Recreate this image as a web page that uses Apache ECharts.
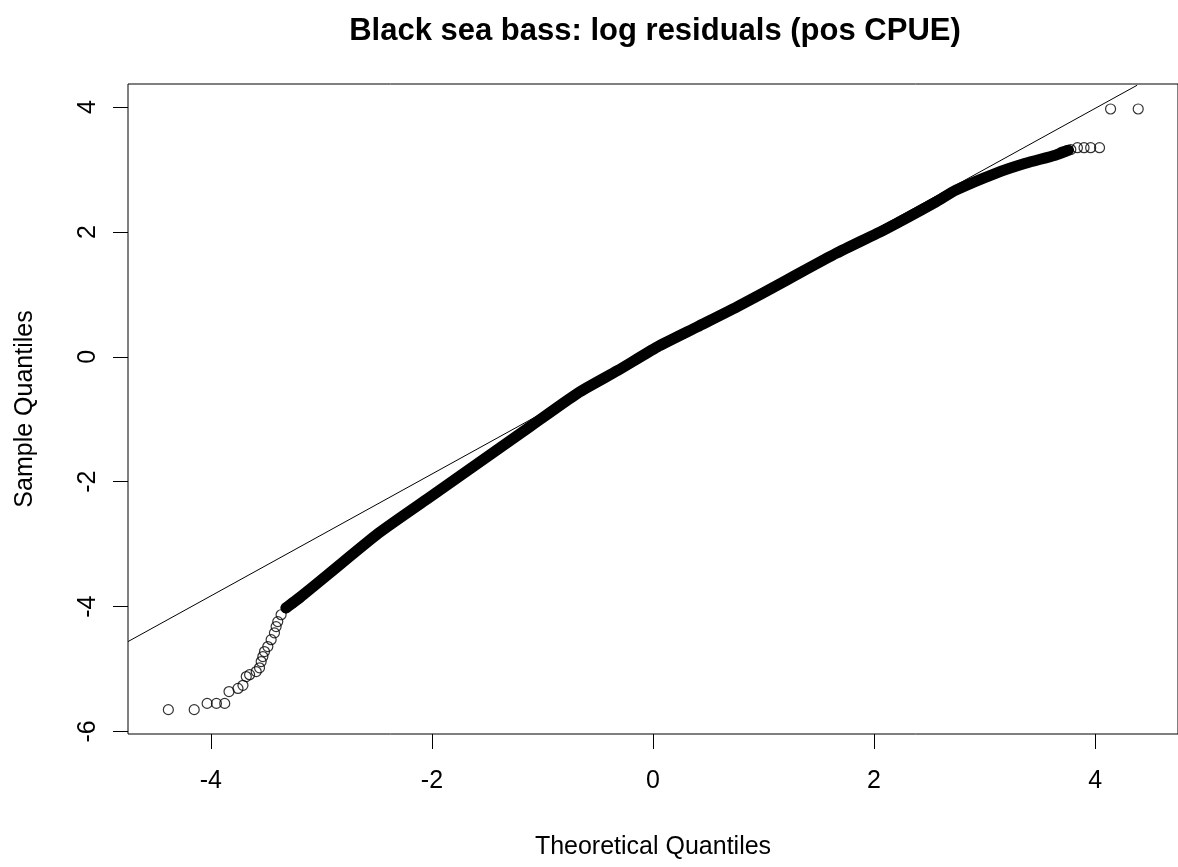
<!DOCTYPE html>
<html>
<head>
<meta charset="utf-8">
<script src="https://cdn.jsdelivr.net/npm/echarts@6/dist/echarts.min.js"></script>
<style>
html,body{margin:0;padding:0;background:#fff;}
#chart{width:1178px;height:867px;}
</style>
</head>
<body>
<div id="chart"></div>
<script>
// ---- data ----
const titleText = 'Black sea bass: log residuals (pos CPUE)';
const xAxisName = 'Theoretical Quantiles';
const yAxisName = 'Sample Quantiles';
const xTicks = [-4, -2, 0, 2, 4];
const yTicks = [-6, -4, -2, 0, 2, 4];

// sparse lower tail points (theoretical, sample)
const lowerTail = [
  [-4.385, -5.65], [-4.151, -5.65], [-4.034, -5.55], [-3.950, -5.55], [-3.875, -5.55],
  [-3.836, -5.36], [-3.755, -5.31], [-3.710, -5.26], [-3.680, -5.12], [-3.650, -5.09],
  [-3.590, -5.04], [-3.560, -4.98], [-3.545, -4.88], [-3.530, -4.80], [-3.515, -4.72],
  [-3.485, -4.64], [-3.455, -4.53], [-3.425, -4.42], [-3.410, -4.32], [-3.395, -4.24],
  [-3.365, -4.13], [-3.320, -4.02], [-3.260, -3.94], [-3.200, -3.86]
];
// dense central band (overlapping points) traced along its centre
const denseBand = [
  [-3.32, -4.02], [-3.20, -3.86], [-2.93, -3.47], [-2.48, -2.82], [-2.03, -2.26],
  [-1.58, -1.70], [-1.13, -1.14], [-0.68, -0.58], [-0.32, -0.22], [0.04, 0.16],
  [0.40, 0.48], [0.76, 0.80], [1.21, 1.23], [1.66, 1.66], [2.11, 2.05],
  [2.56, 2.48], [2.74, 2.67], [3.10, 2.94], [3.37, 3.10], [3.64, 3.23], [3.76, 3.31]
];
// sparse upper tail points
const upperTail = [
  [3.70, 3.28], [3.74, 3.30], [3.78, 3.32],
  [3.84, 3.35], [3.90, 3.35], [3.96, 3.35], [4.04, 3.35],
  [4.14, 3.97], [4.39, 3.97]
];
// reference (qqline) end points
const refLine = [[-4.75, -4.56], [4.38, 4.35]];

const font = 'Liberation Sans, Arial, Helvetica, sans-serif';
const chart = echarts.init(document.getElementById('chart'), null, {renderer: 'canvas'});

const pointStyle = {color: 'rgba(0,0,0,0)', borderColor: '#000', borderWidth: 1.2};

chart.setOption({
  backgroundColor: '#fff',
  animation: false,
  title: {
    text: titleText,
    left: 655,
    top: 16,
    padding: 0,
    textAlign: 'center',
    textStyle: {fontFamily: font, fontSize: 31, fontWeight: 'bold', color: '#000'}
  },
  grid: {
    left: 128, top: 84, width: 1056, height: 650,
    show: true, borderColor: '#000', borderWidth: 1, backgroundColor: 'rgba(0,0,0,0)'
  },
  xAxis: {
    type: 'value', min: -4.75, max: 4.75, position: 'bottom',
    name: xAxisName, nameLocation: 'middle', nameGap: 101,
    nameTextStyle: {fontFamily: font, fontSize: 25, color: '#000'},
    axisLine: {show: false, onZero: false},
    splitLine: {show: false},
    axisTick: {show: true, inside: false, length: 15, customValues: xTicks, lineStyle: {color: '#000', width: 1}},
    axisLabel: {customValues: xTicks, margin: 35, fontFamily: font, fontSize: 25, color: '#000'}
  },
  yAxis: {
    type: 'value', min: -6.04, max: 4.37, position: 'left',
    name: yAxisName, nameLocation: 'middle', nameGap: 90, nameRotate: 90,
    nameTextStyle: {fontFamily: font, fontSize: 25, color: '#000'},
    axisLine: {show: false, onZero: false},
    splitLine: {show: false},
    axisTick: {show: true, inside: false, length: 15, customValues: yTicks, lineStyle: {color: '#000', width: 1}},
    axisLabel: {customValues: yTicks, rotate: 90, margin: 27, fontFamily: font, fontSize: 25, color: '#000'}
  },
  series: [
    {
      type: 'line', data: denseBand, symbol: 'none', smooth: 0.2,
      lineStyle: {color: '#000', width: 11, cap: 'round', join: 'round'}, z: 2
    },
    {
      type: 'scatter', data: lowerTail, symbol: 'circle', symbolSize: 10,
      itemStyle: pointStyle, z: 3
    },
    {
      type: 'scatter', data: upperTail, symbol: 'circle', symbolSize: 10,
      itemStyle: pointStyle, z: 3
    },
    {
      type: 'line', data: refLine, symbol: 'none', clip: true,
      lineStyle: {color: '#000', width: 1}, z: 4
    }
  ]
});
</script>
</body>
</html>
